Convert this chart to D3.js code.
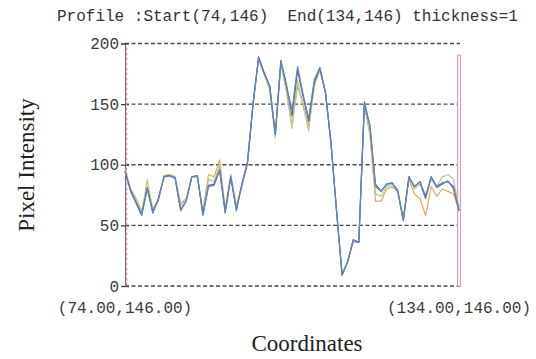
<!DOCTYPE html>
<html><head><meta charset="utf-8">
<script src="https://cdn.jsdelivr.net/npm/d3@7"></script>
<style>html,body{margin:0;padding:0;background:#fff;}svg{display:block;}</style>
</head><body>
<script>
const titleText = "Profile :Start(74,146)  End(134,146) thickness=1";
const startLabel = "(74.00,146.00)";
const endLabel = "(134.00,146.00)";
const xTitle = "Coordinates";
const yTitle = "Pixel Intensity";
const yTicks = [0, 50, 100, 150, 200];
const xStart = 74, xEnd = 134;
const positions = d3.range(xStart, xEnd + 1);

const blueSeries = [95,78,68,58,80,60,72,90,91,89,62,70,90,91,58,82,83,95,60,90,62,84,102,150,188,175,165,125,185,165,145,181,158,138,170,180,160,118,62,9,20,38,36,150,132,82,78,84,85,78,54,90,82,86,72,90,81,84,87,80,63];
const orangeSeries = [97,80,72,62,82,64,70,91,92,90,68,72,90,90,62,92,90,104,64,92,66,82,100,150,188,175,162,125,185,160,132,165,150,132,165,178,160,118,62,9,20,36,36,148,125,70,70,80,82,78,56,88,76,72,58,82,74,80,78,76,62];
const greenSeries = [94,80,72,60,88,62,72,90,92,90,66,72,90,90,60,88,86,100,62,90,64,84,102,150,187,175,162,122,183,162,130,170,148,128,165,178,160,118,62,10,20,38,36,150,128,76,74,82,84,80,56,90,80,84,72,88,82,90,92,88,65];
const darkSeries = [95,79,69,59,81,61,72,90,91,89,63,70,90,91,59,83,84,96,61,90,63,84,102,150,189,176,165,125,186,166,140,178,156,136,168,180,160,118,62,9,20,38,36,152,132,84,78,84,85,78,54,90,82,86,74,90,82,85,86,82,62];

const seriesList = [
  {values: orangeSeries, color: "#e2a865"},
  {values: greenSeries, color: "#b0cf86"},
  {values: darkSeries, color: "#6a5a8e"},
  {values: blueSeries, color: "#5a86c8"}
];

const W = 536, H = 359;
const svg = d3.select("body").append("svg").attr("width", W).attr("height", H);

const x = d3.scaleLinear().domain([xStart, xEnd]).range([125, 459]);
const y = d3.scaleLinear().domain([0, 200]).range([286, 43.5]);

const mono = "'Liberation Mono', 'Courier New', monospace";
const serif = "'Liberation Serif', 'Times New Roman', serif";

// title
svg.append("text").attr("x", 57).attr("y", 21)
  .attr("font-family", mono).attr("font-size", 16).attr("fill", "#333")
  .attr("xml:space", "preserve").style("white-space", "pre")
  .text(titleText);

// grid lines
svg.append("g").selectAll("line").data(yTicks).join("line")
  .attr("x1", x(xStart)).attr("x2", 460)
  .attr("y1", d => y(d)).attr("y2", d => y(d))
  .attr("stroke", "#4a4a4a").attr("stroke-width", 1.4)
  .attr("stroke-dasharray", "4,2.5");

// left axis
const axis = d3.axisLeft(y).tickValues(yTicks).tickSize(4).tickPadding(2);
const ag = svg.append("g").attr("transform", `translate(${x(xStart)},0)`).call(axis);
ag.select(".domain").attr("stroke", "#666").attr("stroke-width", 1);
ag.selectAll(".tick line").attr("stroke", "#444").attr("x2", 4).attr("x1", -4).attr("stroke-width", 1.3);
ag.selectAll(".tick text").attr("font-family", mono).attr("font-size", 16).attr("fill", "#3a3a3a");

// start marker (pink dashed)
svg.append("line").attr("x1", x(xStart) + 1.5).attr("x2", x(xStart) + 1.5)
  .attr("y1", y(200) + 4).attr("y2", y(0))
  .attr("stroke", "#d78ab8").attr("stroke-width", 1.4).attr("stroke-dasharray", "3,2");

// end marker (pink thin rectangle)
svg.append("rect").attr("x", x(xEnd) - 1.5).attr("y", 55).attr("width", 3)
  .attr("height", y(0) - 55)
  .attr("fill", "#fbeff6").attr("stroke", "#d99bc0").attr("stroke-width", 1);

// lines
const line = d3.line().x((d, i) => x(positions[i])).y(d => y(d));
svg.append("g").selectAll("path").data(seriesList).join("path")
  .attr("d", s => line(s.values))
  .attr("fill", "none").attr("stroke", s => s.color)
  .attr("stroke-width", 1.2).attr("stroke-linejoin", "round");

// bottom labels
svg.append("text").attr("x", x(xStart)).attr("y", 313).attr("text-anchor", "middle")
  .attr("font-family", mono).attr("font-size", 16).attr("fill", "#3a3a3a").text(startLabel);
svg.append("text").attr("x", x(xEnd)).attr("y", 313).attr("text-anchor", "middle")
  .attr("font-family", mono).attr("font-size", 16).attr("fill", "#3a3a3a").text(endLabel);

// axis titles
svg.append("text").attr("x", 307).attr("y", 351).attr("text-anchor", "middle")
  .attr("font-family", serif).attr("font-size", 23).attr("fill", "#222").text(xTitle);
svg.append("text").attr("transform", "translate(34,165) rotate(-90)").attr("text-anchor", "middle")
  .attr("font-family", serif).attr("font-size", 23).attr("fill", "#222").text(yTitle);
</script>
</body></html>
